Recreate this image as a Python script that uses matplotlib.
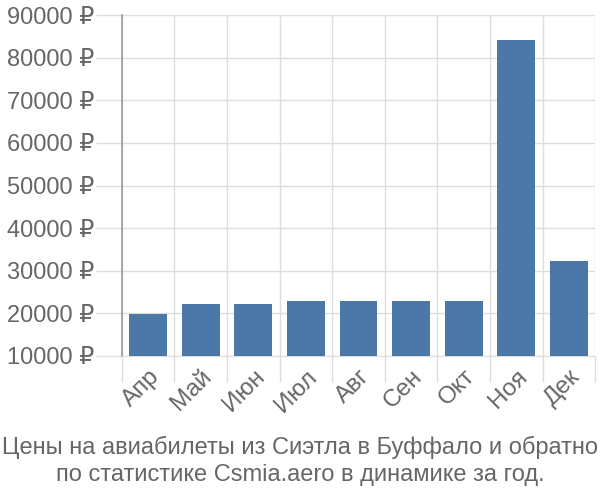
import matplotlib.pyplot as plt
from matplotlib.ticker import FuncFormatter, FixedLocator
import numpy as np

plt.rcParams['font.family'] = ['Liberation Sans', 'DejaVu Sans']

months = ['Апр', 'Май', 'Июн', 'Июл', 'Авг', 'Сен', 'Окт', 'Ноя', 'Дек']
prices = [19900, 22300, 22300, 22900, 22900, 22900, 22900, 84100, 32200]
title = 'Цены на авиабилеты из Сиэтла в Буффало и обратно\nпо статистике Csmia.aero в динамике за год.'

text_color = '#666666'
bar_color = '#4c78a8'
grid_color = '#dddddd'

fig = plt.figure(figsize=(6, 5), dpi=100)
ax = fig.add_axes([0.203, 0.288, 0.789, 0.682])

x = np.arange(len(months))
ax.bar(x, np.array(prices) - 10000, bottom=10000, width=0.72, color=bar_color, zorder=3)

ax.set_xlim(-0.5, len(months) - 0.5)
ax.set_ylim(10000, 90000)
ax.set_yticks(range(10000, 90001, 10000))
ax.yaxis.set_major_formatter(FuncFormatter(lambda v, p: f'{int(v)} ₽'))

# category boundaries carry the grid lines, labels sit at the centres
ax.xaxis.set_major_locator(FixedLocator(np.arange(-0.5, len(months), 1.0)))
ax.set_xticklabels([])
ax.set_xticks(x, minor=True)
ax.set_xticklabels(months, minor=True, rotation=45, ha='right', rotation_mode='anchor')

ax.grid(True, which='major', color=grid_color, linewidth=1, zorder=0)
ax.tick_params(axis='x', which='major', length=19, color=grid_color, width=1)
ax.tick_params(axis='x', which='minor', length=0, pad=7, labelsize=17.5, labelcolor=text_color)
ax.tick_params(axis='y', length=19, color=grid_color, width=1, pad=1,
               labelsize=17, labelcolor=text_color)

for s in ['top', 'right']:
    ax.spines[s].set_visible(False)
ax.spines['bottom'].set_color(grid_color)
ax.spines['left'].set_color('#999999')
ax.spines['left'].set_linewidth(1.2)

fig.text(0.5, 0.078, title, ha='center', va='center', fontsize=17,
         color=text_color, linespacing=1.28)

fig.savefig('out.png', dpi=100)
